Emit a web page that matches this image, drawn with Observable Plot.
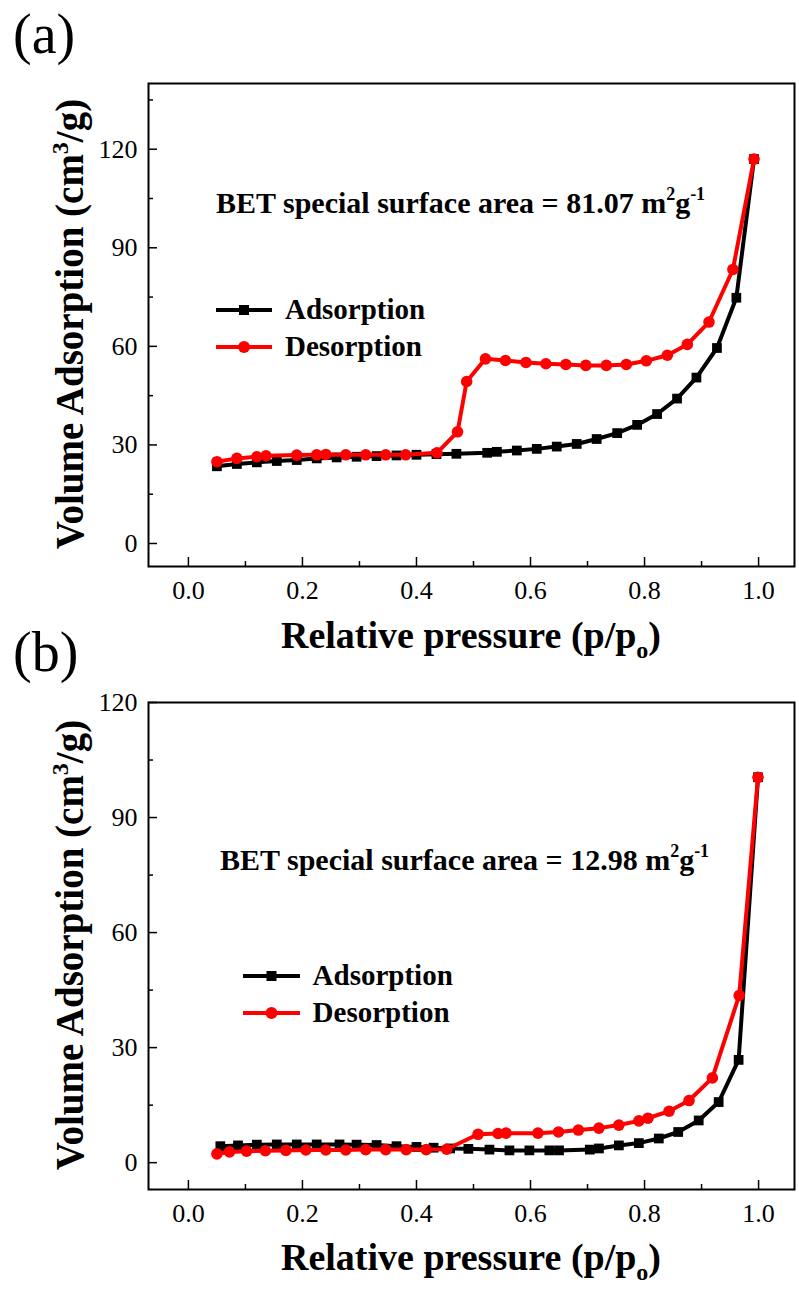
<!DOCTYPE html>
<html>
<head>
<meta charset="utf-8">
<script src="https://cdn.jsdelivr.net/npm/d3@7"></script>
<script src="https://cdn.jsdelivr.net/npm/@observablehq/plot@0.6"></script>
<style>
  html, body { margin: 0; padding: 0; background: #fff; }
  #wrap { position: relative; width: 799px; height: 1290px; overflow: hidden; background: #fff; }
  #wrap svg { position: absolute; left: 0; overflow: visible; }
</style>
</head>
<body>
<div id="wrap"></div>
<script>
// ---------- data ----------
const xTicks = [0, 0.2, 0.4, 0.6, 0.8, 1.0];
const xMinorTicks = [0.1, 0.3, 0.5, 0.7, 0.9];

const yTicksA = [0, 30, 60, 90, 120];
const yMinorA = [15, 45, 75, 105, 135];
const yTicksB = [0, 30, 60, 90, 120];
const yMinorB = [15, 45, 75, 105];

// panel (a)
const aAdsP = [0.050, 0.085, 0.120, 0.155, 0.190, 0.225, 0.260, 0.295, 0.330, 0.365, 0.400, 0.435, 0.470, 0.524, 0.541, 0.576, 0.611, 0.646, 0.681, 0.716, 0.752, 0.787, 0.822, 0.857, 0.891, 0.927, 0.961, 0.992];
const aAdsV = [23.5, 24.2, 24.7, 25.1, 25.4, 25.9, 26.2, 26.4, 26.6, 26.8, 27.0, 27.2, 27.3, 27.6, 27.9, 28.3, 28.8, 29.5, 30.3, 31.8, 33.6, 36.1, 39.4, 44.1, 50.5, 59.5, 74.8, 117.0];
const aDesP = [0.050, 0.085, 0.120, 0.136, 0.190, 0.225, 0.241, 0.276, 0.311, 0.346, 0.381, 0.436, 0.472, 0.488, 0.521, 0.556, 0.592, 0.627, 0.662, 0.697, 0.733, 0.768, 0.803, 0.840, 0.875, 0.913, 0.955, 0.992];
const aDesV = [24.9, 25.9, 26.4, 26.7, 26.9, 27.0, 27.1, 27.0, 27.0, 27.0, 27.0, 27.6, 34.0, 49.3, 56.2, 55.7, 55.1, 54.7, 54.5, 54.2, 54.2, 54.5, 55.6, 57.3, 60.6, 67.4, 83.4, 117.0];

// panel (b)
const bAdsP = [0.056, 0.087, 0.120, 0.155, 0.190, 0.225, 0.265, 0.295, 0.330, 0.365, 0.400, 0.430, 0.459, 0.491, 0.528, 0.563, 0.598, 0.633, 0.650, 0.704, 0.720, 0.755, 0.790, 0.825, 0.859, 0.895, 0.930, 0.965, 0.999];
const bAdsV = [4.3, 4.5, 4.7, 4.75, 4.75, 4.75, 4.75, 4.7, 4.6, 4.3, 4.1, 3.9, 3.7, 3.6, 3.4, 3.2, 3.2, 3.2, 3.2, 3.4, 3.7, 4.5, 5.1, 6.3, 8.0, 11.0, 15.8, 26.8, 100.5];
const bDesP = [0.050, 0.072, 0.102, 0.135, 0.171, 0.206, 0.241, 0.276, 0.311, 0.346, 0.382, 0.417, 0.453, 0.508, 0.543, 0.557, 0.613, 0.649, 0.684, 0.720, 0.755, 0.790, 0.806, 0.843, 0.878, 0.919, 0.966, 0.999];
const bDesV = [2.3, 2.8, 3.0, 3.1, 3.2, 3.3, 3.3, 3.3, 3.4, 3.4, 3.4, 3.4, 3.5, 7.4, 7.6, 7.7, 7.7, 8.0, 8.5, 9.0, 9.8, 10.9, 11.6, 13.4, 16.2, 22.1, 43.6, 100.5];

const seriesNames = ["Adsorption", "Desorption"];
const seriesColors = ["#000000", "#ff0000"];
const betA = "81.07";
const betB = "12.98";

// ---------- helpers ----------
const SERIF = "'Liberation Serif', 'Times New Roman', Times, serif";
const zip = (P, V) => P.map((p, i) => ({p, v: V[i]}));

function addText(svg, {x, y, size, weight = "normal", anchor = "start", rotate = false, parts}) {
  const t = d3.select(svg).append("text")
    .attr("font-family", SERIF)
    .attr("font-size", size)
    .attr("font-weight", weight)
    .attr("text-anchor", anchor)
    .attr("fill", "#000")
    .attr("transform", rotate ? `translate(${x},${y}) rotate(-90)` : `translate(${x},${y})`);
  let shift = 0;
  for (const part of parts) {
    const ts = t.append("tspan").text(part.t);
    const target = part.dy || 0;
    if (target - shift !== 0) ts.attr("dy", target - shift);
    shift = target;
    if (part.size) ts.attr("font-size", part.size);
  }
  return t;
}

function addLegendRow(svg, {x1, x2, y, color, symbol, label, tx, ty}) {
  const g = d3.select(svg).append("g");
  g.append("line").attr("x1", x1).attr("x2", x2).attr("y1", y).attr("y2", y)
    .attr("stroke", color).attr("stroke-width", 4);
  const cx = (x1 + x2) / 2;
  if (symbol === "square") {
    g.append("rect").attr("x", cx - 5).attr("y", y - 5).attr("width", 10).attr("height", 10).attr("fill", color);
  } else {
    g.append("circle").attr("cx", cx).attr("cy", y).attr("r", 6).attr("fill", color);
  }
  g.append("text").attr("x", tx).attr("y", ty)
    .attr("text-anchor", "start")
    .attr("font-family", SERIF).attr("font-size", 29).attr("font-weight", "bold")
    .attr("fill", "#000").text(label);
}

function panel({H, mTop, mBottom, yDomain, yTicks, yMinor, ads, des}) {
  const mLeft = 148, mRight = 5;
  const fw = 799 - mLeft - mRight;
  const fh = H - mTop - mBottom;
  return Plot.plot({
    width: 799,
    height: H,
    marginLeft: mLeft,
    marginRight: mRight,
    marginTop: mTop,
    marginBottom: mBottom,
    x: {domain: [-0.07, 1.063], label: null},
    y: {domain: yDomain, label: null},
    style: {background: "transparent", fontFamily: SERIF, fontSize: "26px", color: "#000", overflow: "visible"},
    marks: [
      Plot.axisX(xTicks, {tickSize: 0, tickPadding: 14, tickFormat: d3.format(".1f"), label: null, fontSize: 26}),
      Plot.axisY(yTicks, {tickSize: 0, tickPadding: 11, label: null, fontSize: 26}),
      Plot.tickX(xTicks, {x: d => d, insetTop: fh - 9, stroke: "#000", strokeWidth: 1.5}),
      Plot.tickX(xMinorTicks, {x: d => d, insetTop: fh - 5, stroke: "#000", strokeWidth: 1.5}),
      Plot.tickY(yTicks, {y: d => d, insetRight: fw - 9, stroke: "#000", strokeWidth: 1.5}),
      Plot.tickY(yMinor, {y: d => d, insetRight: fw - 5, stroke: "#000", strokeWidth: 1.5}),
      Plot.line(ads, {x: "p", y: "v", stroke: seriesColors[0], strokeWidth: 4}),
      Plot.dot(ads, {x: "p", y: "v", symbol: "square", r: 5.5, fill: seriesColors[0], stroke: "none"}),
      Plot.line(des, {x: "p", y: "v", stroke: seriesColors[1], strokeWidth: 4}),
      Plot.dot(des, {x: "p", y: "v", symbol: "circle", r: 5.8, fill: seriesColors[1], stroke: "none"}),
      Plot.frame({stroke: "#000", strokeWidth: 2})
    ]
  });
}

const wrap = document.getElementById("wrap");

// ---------- panel (a) ----------
const HA = 680;
const svgA = panel({H: HA, mTop: 83, mBottom: HA - 566, yDomain: [-7, 140], yTicks: yTicksA, yMinor: yMinorA,
  ads: zip(aAdsP, aAdsV), des: zip(aDesP, aDesV)});
svgA.style.top = "0px";
wrap.appendChild(svgA);

addText(svgA, {x: 13, y: 53, size: 56, parts: [{t: "(a)"}]});
addText(svgA, {x: 83, y: 324, size: 39, weight: "bold", anchor: "middle", rotate: true,
  parts: [{t: "Volume Adsorption (cm"}, {t: "3", dy: -15, size: 24}, {t: "/g)"}]});
addText(svgA, {x: 471, y: 648, size: 38, weight: "bold", anchor: "middle",
  parts: [{t: "Relative pressure (p/p"}, {t: "o", dy: 10, size: 24}, {t: ")"}]});
addText(svgA, {x: 216, y: 213, size: 30, weight: "bold",
  parts: [{t: `BET special surface area = ${betA} m`}, {t: "2", dy: -13, size: 18}, {t: "g"}, {t: "-1", dy: -13, size: 18}]});
addLegendRow(svgA, {x1: 216, x2: 272, y: 310, color: seriesColors[0], symbol: "square", label: seriesNames[0], tx: 285, ty: 318.5});
addLegendRow(svgA, {x1: 216, x2: 272, y: 347, color: seriesColors[1], symbol: "circle", label: seriesNames[1], tx: 285, ty: 356});

// ---------- panel (b) ----------
const TB = 600;
const HB = 690;
const svgB = panel({H: HB, mTop: 702 - TB, mBottom: HB - (1189 - TB), yDomain: [-7, 120], yTicks: yTicksB, yMinor: yMinorB,
  ads: zip(bAdsP, bAdsV), des: zip(bDesP, bDesV)});
svgB.style.top = TB + "px";
wrap.appendChild(svgB);

addText(svgB, {x: 13, y: 671 - TB, size: 56, parts: [{t: "(b)"}]});
addText(svgB, {x: 83, y: 945 - TB, size: 39, weight: "bold", anchor: "middle", rotate: true,
  parts: [{t: "Volume Adsorption (cm"}, {t: "3", dy: -15, size: 24}, {t: "/g)"}]});
addText(svgB, {x: 471, y: 1270 - TB, size: 38, weight: "bold", anchor: "middle",
  parts: [{t: "Relative pressure (p/p"}, {t: "o", dy: 10, size: 24}, {t: ")"}]});
addText(svgB, {x: 220, y: 870 - TB, size: 30, weight: "bold",
  parts: [{t: `BET special surface area = ${betB} m`}, {t: "2", dy: -13, size: 18}, {t: "g"}, {t: "-1", dy: -13, size: 18}]});
addLegendRow(svgB, {x1: 243, x2: 300, y: 976 - TB, color: seriesColors[0], symbol: "square", label: seriesNames[0], tx: 312.6, ty: 984.5 - TB});
addLegendRow(svgB, {x1: 243, x2: 300, y: 1013 - TB, color: seriesColors[1], symbol: "circle", label: seriesNames[1], tx: 312.6, ty: 1021.7 - TB});
</script>
</body>
</html>
